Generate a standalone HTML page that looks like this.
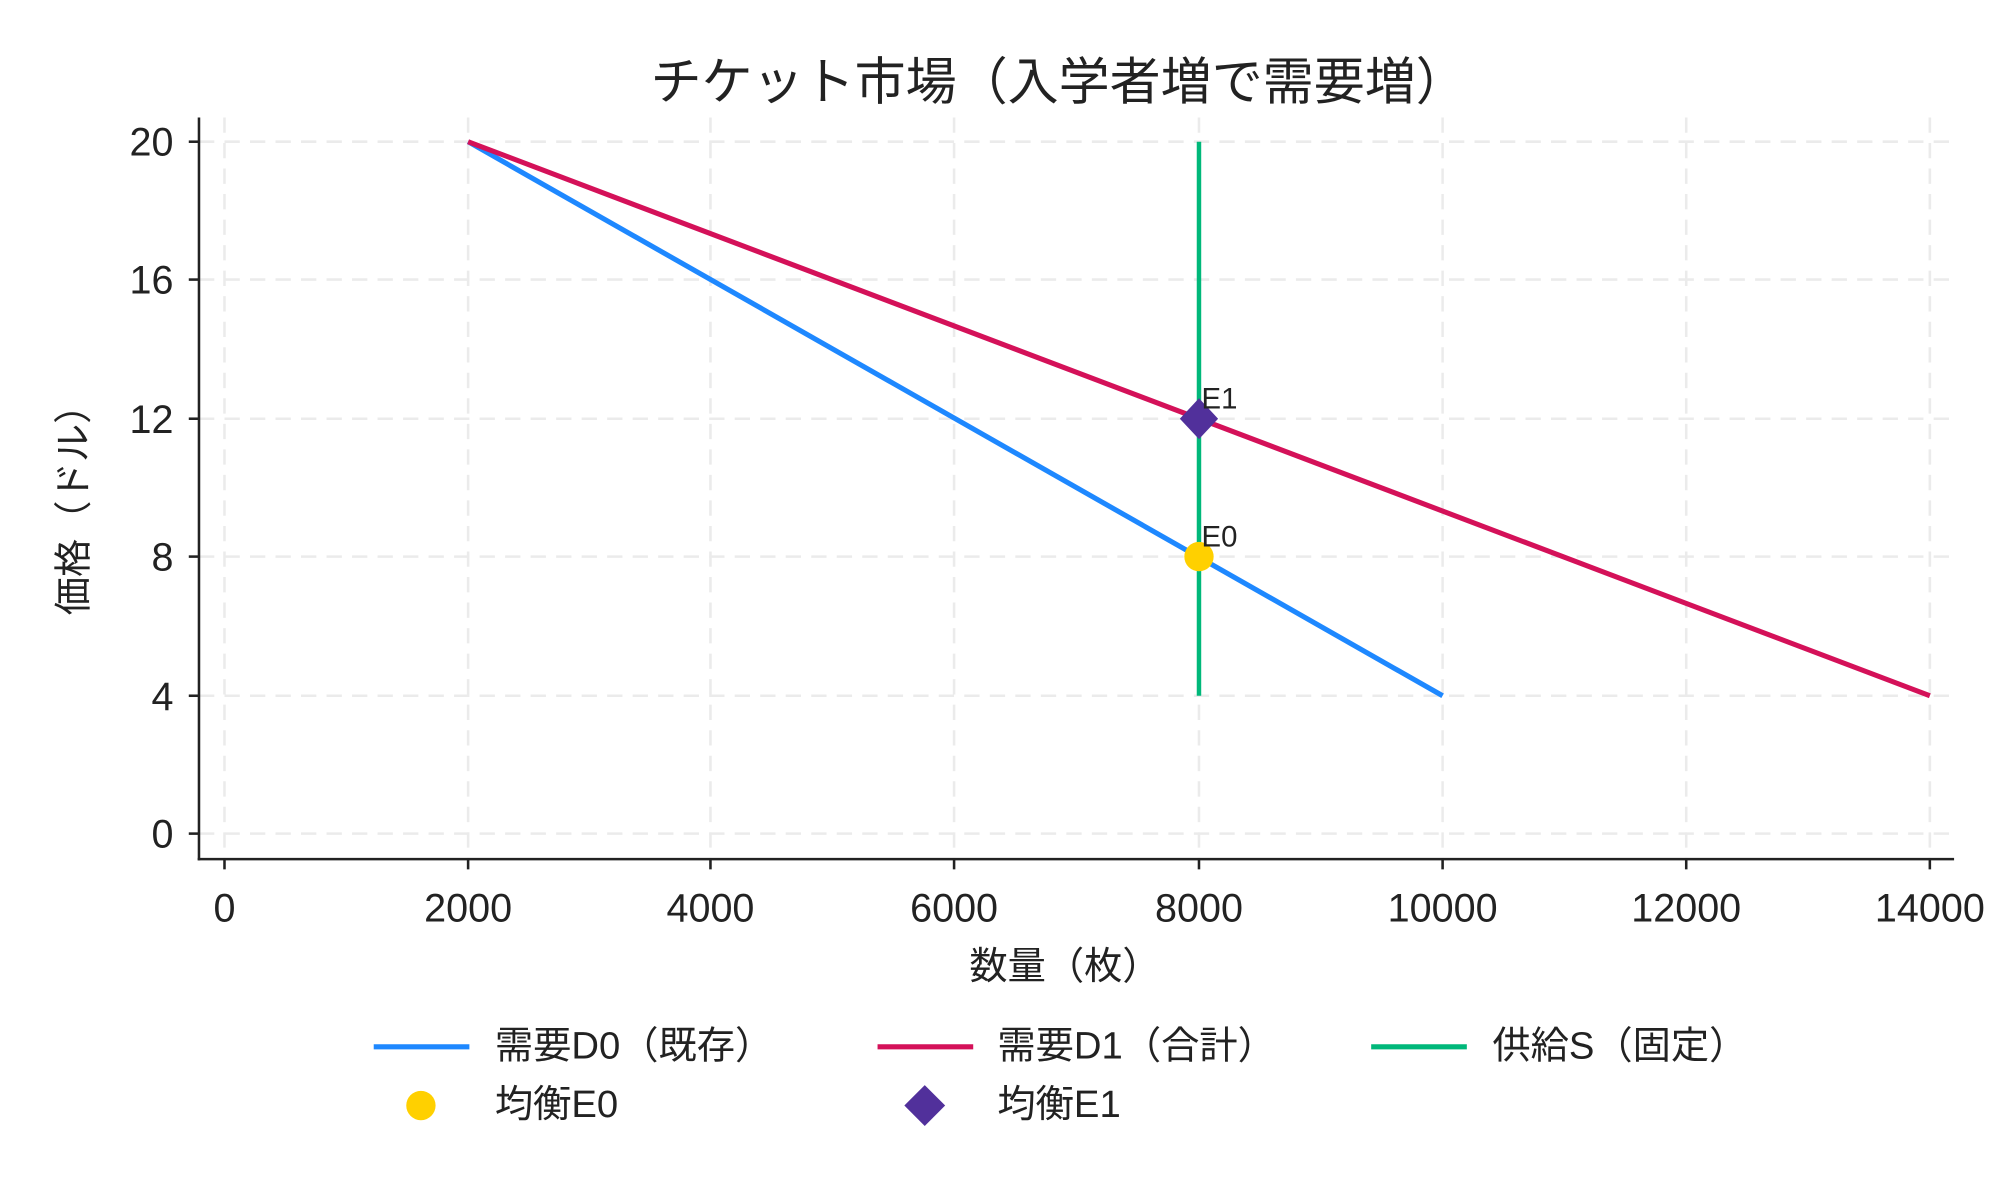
<!DOCTYPE html>
<html><head><meta charset="utf-8"><style>
html,body{margin:0;padding:0;background:#fff;}
svg{display:block;}
text{font-family:"Liberation Sans","Noto Sans CJK JP",sans-serif;fill:#222;}
</style></head><body>
<svg width="2000" height="1200" viewBox="0 0 1568 940" preserveAspectRatio="none" xmlns="http://www.w3.org/2000/svg">
<rect width="1568" height="940" fill="#fff"/>
<g stroke="#ebebeb" stroke-width="2" stroke-dasharray="12,8">
<line x1="176" y1="92" x2="176" y2="673"/>
<line x1="367" y1="92" x2="367" y2="673"/>
<line x1="557" y1="92" x2="557" y2="673"/>
<line x1="748" y1="92" x2="748" y2="673"/>
<line x1="940" y1="92" x2="940" y2="673"/>
<line x1="1131" y1="92" x2="1131" y2="673"/>
<line x1="1322" y1="92" x2="1322" y2="673"/>
<line x1="1513" y1="92" x2="1513" y2="673"/>
<line x1="156" y1="111" x2="1532" y2="111"/>
<line x1="156" y1="219" x2="1532" y2="219"/>
<line x1="156" y1="328" x2="1532" y2="328"/>
<line x1="156" y1="436" x2="1532" y2="436"/>
<line x1="156" y1="545" x2="1532" y2="545"/>
<line x1="156" y1="653" x2="1532" y2="653"/>
</g>
<g stroke="#222" stroke-width="2">
<line x1="156" y1="92" x2="156" y2="674"/>
<line x1="155" y1="673" x2="1532" y2="673"/>
<line x1="148" y1="111" x2="156" y2="111"/>
<line x1="148" y1="219" x2="156" y2="219"/>
<line x1="148" y1="328" x2="156" y2="328"/>
<line x1="148" y1="436" x2="156" y2="436"/>
<line x1="148" y1="545" x2="156" y2="545"/>
<line x1="148" y1="653" x2="156" y2="653"/>
<line x1="176" y1="673" x2="176" y2="681"/>
<line x1="367" y1="673" x2="367" y2="681"/>
<line x1="557" y1="673" x2="557" y2="681"/>
<line x1="748" y1="673" x2="748" y2="681"/>
<line x1="940" y1="673" x2="940" y2="681"/>
<line x1="1131" y1="673" x2="1131" y2="681"/>
<line x1="1322" y1="673" x2="1322" y2="681"/>
<line x1="1513" y1="673" x2="1513" y2="681"/>
</g>
<g font-size="31" text-anchor="end">
<text x="136" y="122">20</text>
<text x="136" y="230">16</text>
<text x="136" y="339">12</text>
<text x="136" y="447">8</text>
<text x="136" y="556">4</text>
<text x="136" y="664">0</text>
</g>
<g font-size="31" text-anchor="middle">
<text x="176" y="722">0</text>
<text x="367" y="722">2000</text>
<text x="557" y="722">4000</text>
<text x="748" y="722">6000</text>
<text x="940" y="722">8000</text>
<text x="1131" y="722">10000</text>
<text x="1322" y="722">12000</text>
<text x="1513" y="722">14000</text>
</g>
<text x="830" y="78" font-size="40" text-anchor="middle">チケット市場（入学者増で需要増）</text>
<text x="835" y="767" font-size="30" text-anchor="middle">数量（枚）</text>
<text transform="translate(68,392) rotate(-90)" font-size="30" text-anchor="middle">価格（ドル）</text>
<line x1="940" y1="111" x2="940" y2="545" stroke="#00b87a" stroke-width="3.5"/>
<line x1="367" y1="111" x2="1131" y2="545" stroke="#1e88ff" stroke-width="4"/>
<line x1="367" y1="111" x2="1513" y2="545" stroke="#d41159" stroke-width="4"/>
<circle cx="940" cy="436" r="11.5" fill="#ffd000"/>
<polygon points="940,312 955,328 940,344 925,328" fill="#51309b"/>
<text x="942" y="320" font-size="23" fill="#444">E1</text>
<text x="942" y="428" font-size="23" fill="#444">E0</text>
<g font-size="30">
<line x1="293" y1="820" x2="368" y2="820" stroke="#1e88ff" stroke-width="4"/>
<text x="388" y="829">需要D0（既存）</text>
<line x1="688" y1="820" x2="763" y2="820" stroke="#d41159" stroke-width="4"/>
<text x="782" y="829">需要D1（合計）</text>
<line x1="1075" y1="820" x2="1150" y2="820" stroke="#00b87a" stroke-width="4"/>
<text x="1170" y="829">供給S（固定）</text>
<circle cx="330" cy="866" r="11.5" fill="#ffd000"/>
<text x="388" y="875">均衡E0</text>
<polygon points="725,850 741,866 725,882 709,866" fill="#51309b"/>
<text x="782" y="875">均衡E1</text>
</g>
</svg>
</body></html>
